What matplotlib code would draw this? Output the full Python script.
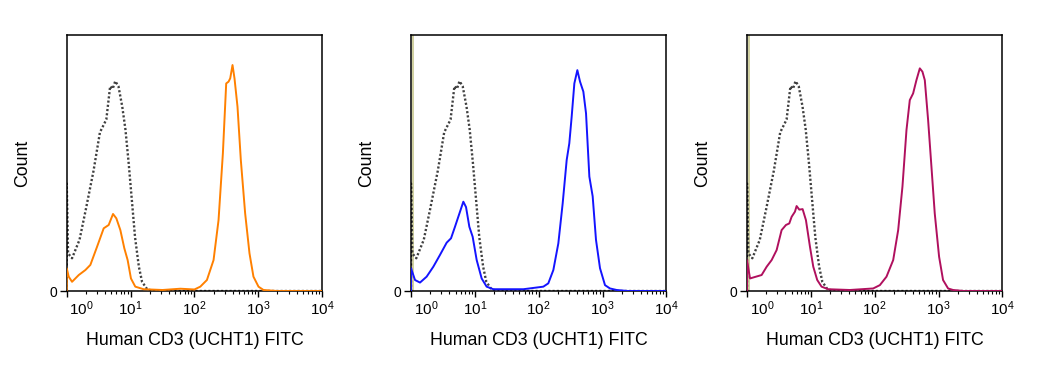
import numpy as np
import matplotlib
matplotlib.use("Agg")
import matplotlib.pyplot as plt
from matplotlib.transforms import ScaledTranslation

plt.rcParams['font.family'] = ['Liberation Sans', 'DejaVu Sans']
plt.rcParams['mathtext.fontset'] = 'custom'
plt.rcParams['mathtext.rm'] = 'Liberation Sans'
plt.rcParams['mathtext.it'] = 'Liberation Sans:italic'

# x values are log10 of FITC intensity, y values are counts as a fraction of axis height
iso_log = [0.0, 0.0, 0.021, 0.083, 0.2, 0.3, 0.42, 0.52, 0.62, 0.68, 0.72, 0.76, 0.81, 0.87,
           0.92, 0.97, 1.02, 1.07, 1.13, 1.18, 1.26, 1.36, 4.0]
iso_cnt = [0.0, 0.42, 0.147, 0.128, 0.2, 0.32, 0.47, 0.62, 0.67, 0.8, 0.79, 0.82, 0.80, 0.72,
           0.63, 0.50, 0.355, 0.21, 0.095, 0.036, 0.007, 0.0, 0.0]

orange_log = [0.0, 0.0, 0.031, 0.083, 0.188, 0.292, 0.37, 0.475, 0.579, 0.657, 0.725, 0.777,
              0.84, 0.902, 0.954, 1.006, 1.074, 1.205, 1.5, 1.78, 2.0, 2.092, 2.196, 2.3,
              2.378, 2.446, 2.498, 2.535, 2.561, 2.597, 2.628, 2.675, 2.727, 2.795, 2.863,
              2.925, 3.004, 3.082, 3.3, 4.0]
orange_cnt = [0.0, 0.089, 0.056, 0.036, 0.0625, 0.082, 0.102, 0.173, 0.245, 0.258, 0.301, 0.284,
              0.238, 0.167, 0.121, 0.049, 0.017, 0.007, 0.004, 0.009, 0.006, 0.017, 0.043, 0.121,
              0.277, 0.538, 0.811, 0.818, 0.831, 0.883, 0.831, 0.72, 0.512, 0.303, 0.147,
              0.056, 0.017, 0.004, 0.0, 0.0]

blue_log = [0.0, 0.0, 0.063, 0.141, 0.245, 0.35, 0.454, 0.559, 0.627, 0.689, 0.768, 0.82, 0.862,
            0.914, 0.966, 1.029, 1.107, 1.185, 1.29, 1.76, 2.073, 2.151, 2.23, 2.308, 2.376,
            2.439, 2.48, 2.517, 2.559, 2.606, 2.648, 2.7, 2.742, 2.794, 2.846, 2.898, 2.961,
            3.039, 3.117, 3.222, 3.4, 4.0]
blue_cnt = [0.0, 0.089, 0.043, 0.033, 0.056, 0.095, 0.141, 0.189, 0.206, 0.251, 0.31, 0.349, 0.328,
            0.251, 0.212, 0.121, 0.049, 0.017, 0.007, 0.007, 0.017, 0.03, 0.082, 0.186, 0.342,
            0.512, 0.577, 0.681, 0.811, 0.863, 0.818, 0.779, 0.694, 0.447, 0.37, 0.2, 0.089,
            0.023, 0.01, 0.004, 0.0, 0.0]

crimson_log = [0.0, 0.0, 0.047, 0.099, 0.229, 0.308, 0.386, 0.464, 0.542, 0.61, 0.662, 0.699,
               0.751, 0.777, 0.819, 0.871, 0.923, 0.986, 1.038, 1.1, 1.168, 1.272, 1.611, 1.977,
               2.081, 2.185, 2.29, 2.368, 2.435, 2.498, 2.55, 2.602, 2.654, 2.707, 2.748, 2.785,
               2.837, 2.889, 2.941, 3.009, 3.071, 3.15, 3.228, 3.4, 4.0]
crimson_cnt = [0.0, 0.121, 0.049, 0.053, 0.0625, 0.095, 0.121, 0.16, 0.238, 0.258, 0.264, 0.29,
               0.31, 0.332, 0.318, 0.32, 0.277, 0.173, 0.095, 0.043, 0.017, 0.007, 0.004, 0.01,
               0.023, 0.056, 0.121, 0.238, 0.408, 0.629, 0.746, 0.772, 0.824, 0.87, 0.857, 0.824,
               0.668, 0.486, 0.303, 0.134, 0.043, 0.01, 0.004, 0.0, 0.0]

tick_vals = [1, 10, 100, 1000, 10000]
tick_text = ['$10^{0}$', '$10^{1}$', '$10^{2}$', '$10^{3}$', '$10^{4}$']
xlabel = 'Human CD3 (UCHT1) FITC'

panels = [
    (orange_log, orange_cnt, '#FF8000', 0.0632, False),
    (blue_log, blue_cnt, '#1414FF', 0.3892, True),
    (crimson_log, crimson_cnt, '#B0105E', 0.7074, True),
]

fig = plt.figure(figsize=(10.56, 3.72), dpi=100)

for xs, ys, col, left, edge in panels:
    ax = fig.add_axes([left, 0.2177, 0.2418, 0.688])
    ax.plot(10 ** np.array(iso_log), iso_cnt, color='#404040', lw=1.7,
            linestyle=(0, (0.9, 0.9)), zorder=2)
    ax.plot(10 ** np.array(xs), ys, color=col, lw=1.4, zorder=3)
    if edge:
        ax.axvline(1.06, color='#C8C890', lw=1.2, zorder=1)
    ax.set_xscale('log')
    ax.set_xlim(1, 10000)
    ax.set_ylim(0, 1)
    for s in ax.spines.values():
        s.set_linewidth(1.1)
    ax.set_xticks(tick_vals)
    ax.set_xticklabels(tick_text, fontsize=11)
    ax.tick_params(axis='x', which='major', length=4.5, width=1, pad=1.5)
    ax.tick_params(axis='x', which='minor', length=2.2, width=0.8)
    ax.set_yticks([0])
    ax.set_yticklabels(['0'], fontsize=10)
    ax.tick_params(axis='y', length=5, width=1, pad=2)
    lbl = ax.get_xticklabels()[0]
    lbl.set_transform(lbl.get_transform() + ScaledTranslation(0.15, 0, fig.dpi_scale_trans))
    ax.set_xlabel(xlabel, fontsize=12.8, labelpad=10)
    ax.set_ylabel('Count', fontsize=12.8, labelpad=13)

fig.savefig('out.png', dpi=100)
